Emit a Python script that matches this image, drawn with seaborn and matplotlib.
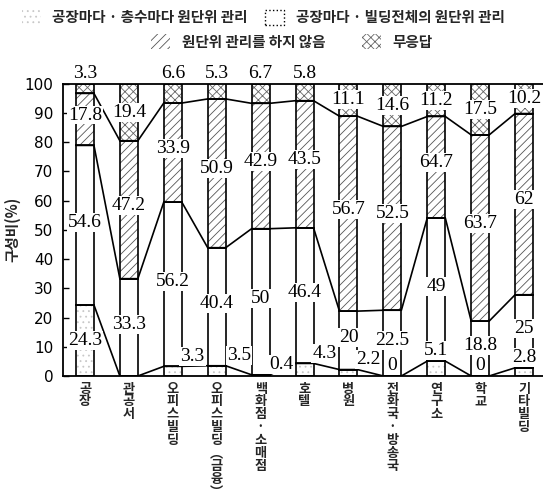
import numpy as np
import matplotlib
matplotlib.use("Agg")
import matplotlib.pyplot as plt
import seaborn as sns
from matplotlib.patches import Patch

# ---------- DATA ----------
categories = ["공장", "관공서", "오피스빌딩", "오피스빌딩(금융)", "백화점·소매점", "호텔",
              "병원", "전화국·방송국", "연구소", "학교", "기타빌딩"]
xtick_labels = ["공장", "관공서", "오피스빌딩", "오피스빌딩︵금융︶", "백화점·소매점", "호텔",
                "병원", "전화국·방송국", "연구소", "학교", "기타빌딩"]

series_names = ["공장마다 · 층수마다 원단위 관리", "공장마다 · 빌딩전체의 원단위 관리",
                "원단위 관리를 하지 않음", "무응답"]

per_floor = [24.3, 0, 3.3, 3.5, 0.4, 4.3, 2.2, 0, 5.1, 0, 2.8]
per_building = [54.6, 33.3, 56.2, 40.4, 50, 46.4, 20, 22.5, 49, 18.8, 25]
no_control = [17.8, 47.2, 33.9, 50.9, 42.9, 43.5, 66.7, 62.9, 34.7, 63.7, 62]
no_answer = [3.3, 19.4, 6.6, 5.3, 6.7, 5.8, 11.1, 14.6, 11.2, 17.5, 10.2]

# numbers as printed on the original figure
per_floor_txt = ["24.3", "", "3.3", "3.5", "0.4", "4.3", "2.2", "0", "5.1", "0", "2.8"]
per_building_txt = ["54.6", "33.3", "56.2", "40.4", "50", "46.4", "20", "22.5", "49", "18.8", "25"]
no_control_txt = ["17.8", "47.2", "33.9", "50.9", "42.9", "43.5", "56.7", "52.5", "64.7", "63.7", "62"]
no_answer_txt = ["3.3", "19.4", "6.6", "5.3", "6.7", "5.8", "11.1", "14.6", "11.2", "17.5", "10.2"]

# ---------- STYLE ----------
sns.set_theme(style="white")
plt.rcParams["font.family"] = ["Noto Sans CJK KR", "DejaVu Sans"]
plt.rcParams["hatch.linewidth"] = 0.6

W = 0.41
fig = plt.figure(figsize=(5.43, 5.03), dpi=100)
ax = fig.add_axes([0.116, 0.2525, 0.884, 0.581])

layers = [per_floor, per_building, no_control, no_answer]
styles = [dict(hatch="...", edgecolor="#c8c8c8"),
          dict(hatch=None, edgecolor="white"),
          dict(hatch="////", edgecolor="#555555"),
          dict(hatch="xxxx", edgecolor="#666666")]

bottom = np.zeros(len(categories))
bottoms = []
for vals, st in zip(layers, styles):
    vals = np.array(vals, dtype=float)
    bottoms.append(bottom.copy())
    sns.barplot(x=categories, y=vals, order=categories, bottom=bottom, width=W,
                color="white", linewidth=0, errorbar=None, ax=ax, **st)
    sns.barplot(x=categories, y=vals, order=categories, bottom=bottom, width=W,
                fill=False, color="black", edgecolor="black", linewidth=1.2,
                errorbar=None, ax=ax)
    bottom = bottom + vals

# boundary lines between bars
xs = np.arange(len(categories))
for k in range(1, 4):
    level = bottoms[k]
    px, py = [], []
    for i in xs:
        px += [i - W / 2, i + W / 2]
        py += [level[i], level[i]]
    ax.plot(px, py, color="black", lw=1.2, zorder=3)

# ---------- LABELS ----------
num_font = dict(family="Liberation Serif", fontsize=14, color="black", zorder=5)
box = dict(boxstyle="square,pad=0.05", fc="white", ec="none")
s1_dx = [0, 0, 0.45, 0.5, 0.48, 0.45, 0.45, 0, 0, 0, 0]

for i in xs:
    b0 = bottoms[0][i]
    v = per_floor[i]
    if per_floor_txt[i]:
        if v >= 10:
            ax.text(i, b0 + v / 2, per_floor_txt[i], ha="center", va="center", bbox=box, **num_font)
        else:
            ax.text(i + s1_dx[i], b0 + v + 0.6, per_floor_txt[i], ha="center", va="bottom",
                    bbox=box, **num_font)
    ax.text(i, bottoms[1][i] + per_building[i] / 2 + 1, per_building_txt[i],
            ha="center", va="center", bbox=box, **num_font)
    ax.text(i, bottoms[2][i] + no_control[i] / 2 + 1.5, no_control_txt[i],
            ha="center", va="center", bbox=box, **num_font)
    if no_answer[i] >= 10:
        ax.text(i, bottoms[3][i] + no_answer[i] / 2, no_answer_txt[i],
                ha="center", va="center", bbox=box, **num_font)
    else:
        ax.text(i, 100.6, no_answer_txt[i], ha="center", va="bottom", clip_on=False, **num_font)

# ---------- AXES ----------
ax.set_xlim(-0.5, 10.43)
ax.set_ylim(0, 100)
ax.set_yticks(range(0, 101, 10))
ax.set_yticklabels([str(t) for t in range(0, 101, 10)],
                   family=["Liberation Sans Narrow", "DejaVu Sans"], fontsize=11)
ax.set_xticks(xs)
ax.set_xticklabels(["\n".join(lbl) for lbl in xtick_labels], fontsize=9.5,
                   fontweight="bold", linespacing=0.9, va="top")
ax.tick_params(axis="x", length=0, pad=4)
ax.tick_params(axis="y", direction="in", length=4, width=1, pad=7, left=True, colors="black")
ax.set_xlabel("")
ax.set_ylabel("구성비(%)", fontsize=10.5, fontweight="bold", labelpad=3)
for side in ["left", "top", "bottom"]:
    ax.spines[side].set_visible(True)
    ax.spines[side].set_color("black")
    ax.spines[side].set_linewidth(1.3)
ax.spines["right"].set_visible(False)

# ---------- LEGEND ----------
handles = [Patch(facecolor="white", edgecolor="#c8c8c8", hatch="...", linewidth=0),
           Patch(facecolor="white", edgecolor="black", linestyle=":", linewidth=1),
           Patch(facecolor="white", edgecolor="#555555", hatch="////", linewidth=0),
           Patch(facecolor="white", edgecolor="#666666", hatch="xxxx", linewidth=0)]
leg_font = dict(size=10.5, weight="bold")
leg1 = fig.legend(handles[:2], series_names[:2], loc="center", bbox_to_anchor=(0.485, 0.966),
                  ncol=2, frameon=False, prop=leg_font, handlelength=1.3, handleheight=1.2,
                  handletextpad=0.8, columnspacing=1.2)
leg2 = fig.legend(handles[2:], series_names[2:], loc="center", bbox_to_anchor=(0.538, 0.917),
                  ncol=2, frameon=False, prop=leg_font, handlelength=1.3, handleheight=1.2,
                  handletextpad=0.8, columnspacing=2.5)

fig.savefig("out.png", dpi=100)
